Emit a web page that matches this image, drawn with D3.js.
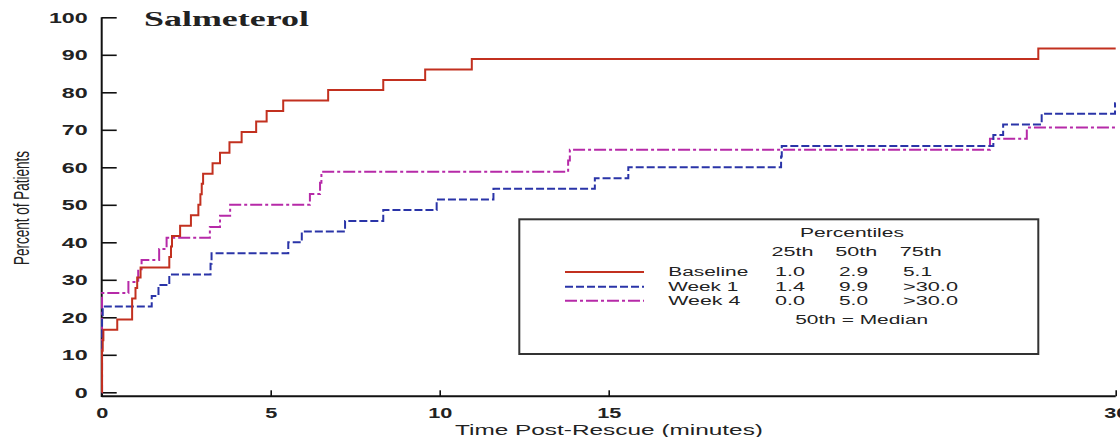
<!DOCTYPE html>
<html><head><meta charset="utf-8">
<script src="https://cdn.jsdelivr.net/npm/d3@7"></script>
<style>body{margin:0;background:#fff}svg{display:block}text{font-family:"Liberation Sans",Arial,sans-serif;fill:#222}</style>
</head><body><div id="chart"></div>
<script>
// ---- data ----
const seriesNames = ["Baseline", "Week 1", "Week 4"];
const baselineTime = [0, 0.01, 0.03, 0.05, 0.46, 0.90, 1.00, 1.05, 1.15, 2.00, 2.05, 2.08, 2.32, 2.64, 2.86, 2.92, 2.96, 3.00, 3.28, 3.50, 3.78, 4.14, 4.57, 4.88, 5.37, 6.70, 8.33, 9.57, 10.95, 27.71, 30];
const baselinePct  = [0, 11.1, 13.9, 16.7, 19.4, 25.0, 27.8, 30.6, 33.3, 36.1, 38.9, 41.7, 44.4, 47.2, 50.0, 52.8, 55.6, 58.3, 61.1, 63.9, 66.7, 69.4, 72.2, 75.0, 77.8, 80.6, 83.3, 86.1, 88.9, 91.7, 91.7];
const week1Time = [0, 0.01, 0.03, 1.48, 1.68, 2.00, 3.22, 3.25, 5.52, 5.92, 7.20, 8.33, 9.91, 11.59, 14.59, 15.58, 20.10, 20.12, 26.38, 26.67, 27.81, 29.98, 30];
const week1Pct  = [0, 20.0, 22.9, 25.7, 28.6, 31.4, 34.3, 37.1, 40.0, 42.9, 45.7, 48.6, 51.4, 54.3, 57.1, 60.0, 62.9, 65.7, 68.6, 71.4, 74.3, 77.1, 77.1];
const week4Time = [0, 0.01, 0.79, 1.08, 1.18, 1.70, 1.92, 3.20, 3.50, 3.80, 6.16, 6.46, 6.50, 13.80, 13.85, 26.28, 27.37, 30];
const week4Pct  = [0, 26.5, 29.4, 32.4, 35.3, 38.2, 41.2, 44.1, 47.1, 50.0, 52.9, 55.9, 58.8, 61.8, 64.7, 67.6, 70.6, 70.6];
const xTicks = [0, 5, 10, 15, 30];
const yTicks = [0, 10, 20, 30, 40, 50, 60, 70, 80, 90, 100];
const pctHeaders = ["25th", "50th", "75th"];
const pct25 = ["1.0", "1.4", "0.0"];
const pct50 = ["2.9", "9.9", "5.0"];
const pct75 = ["5.1", ">30.0", ">30.0"];

// ---- styles ----
const colors = ["#c2301f", "#2a34a8", "#b62aa8"];
const dashes = [null, "8,3", "12,3,3,3"];

const W = 1120, H = 437;
const svg = d3.select("#chart").append("svg").attr("width", W).attr("height", H);

const x = d3.scaleLinear().domain([0, 30]).range([101.7, 1115.7]);
const y = d3.scaleLinear().domain([0, 100]).range([392.3, 17.3]);

function fit(sel, w) {
  sel.attr("textLength", w).attr("lengthAdjust", "spacingAndGlyphs");
}

// axes lines
svg.append("line").attr("x1", x(0)).attr("x2", x(0)).attr("y1", y(100)).attr("y2", 397)
  .attr("stroke", "#111").attr("stroke-width", 2);
svg.append("line").attr("x1", x(0)).attr("x2", x(30)).attr("y1", 396.3).attr("y2", 396.3)
  .attr("stroke", "#111").attr("stroke-width", 2);

const yAxis = svg.append("g").attr("transform", `translate(${x(0)},0)`)
  .call(d3.axisLeft(y).tickValues(yTicks).tickSizeInner(-15).tickSizeOuter(0).tickPadding(14));
yAxis.select(".domain").remove();
yAxis.selectAll("line").attr("stroke", "#111").attr("stroke-width", 1.6);
yAxis.selectAll("text").style("font-family", '"Liberation Sans",Arial,sans-serif')
  .style("font-size", "15px").style("font-weight", "bold").attr("fill", "#222")
  .each(function () { const t = d3.select(this); fit(t, this.getComputedTextLength() * 1.55); });

const xAxis = svg.append("g").attr("transform", "translate(0,396.3)")
  .call(d3.axisBottom(x).tickValues(xTicks).tickSizeInner(-6).tickSizeOuter(0).tickPadding(12));
xAxis.select(".domain").remove();
xAxis.selectAll("line").attr("stroke", "#111").attr("stroke-width", 1.6);
xAxis.selectAll("text").style("font-family", '"Liberation Sans",Arial,sans-serif')
  .style("font-size", "14px").style("font-weight", "bold").attr("fill", "#222")
  .each(function () { const t = d3.select(this); fit(t, this.getComputedTextLength() * 1.55); });

// curves
const line = d3.line().x(d => x(d[0])).y(d => y(d[1])).curve(d3.curveStepAfter);
const series = [
  d3.zip(baselineTime, baselinePct),
  d3.zip(week1Time, week1Pct),
  d3.zip(week4Time, week4Pct)
];
[2, 1, 0].forEach(i => {
  svg.append("path").datum(series[i]).attr("d", line).attr("fill", "none")
    .attr("stroke", colors[i]).attr("stroke-width", 2)
    .attr("stroke-dasharray", dashes[i]);
});

// title
svg.append("text").attr("x", 144).attr("y", 26).text("Salmeterol")
  .style("font-family", '"Liberation Serif","Times New Roman",serif')
  .style("font-size", "20px").style("font-weight", "bold").attr("fill", "#111")
  .call(fit, 165);

// axis titles
svg.append("text").attr("x", 609).attr("y", 429).attr("text-anchor", "middle")
  .attr("dominant-baseline", "central").style("font-size", "15px").text("Time Post-Rescue (minutes)")
  .call(fit, 308);
svg.append("text").attr("transform", "translate(21,208) scale(1.6,1) rotate(-90)")
  .attr("text-anchor", "middle").attr("dominant-baseline", "central")
  .style("font-size", "14px").text("Percent of Patients").call(fit, 114);

// legend box
svg.append("rect").attr("x", 519.3).attr("y", 219.3).attr("width", 519).attr("height", 134.7)
  .attr("fill", "#fff").attr("stroke", "#333").attr("stroke-width", 2);

const lg = svg.append("g").style("font-size", "12px");
function lt(str, xx, yy, w, anchor) {
  return lg.append("text").attr("x", xx).attr("y", yy).attr("text-anchor", anchor || "start")
    .attr("dominant-baseline", "central").text(str).call(fit, w);
}
lt("Percentiles", 852, 233.3, 104, "middle");
const hdrX = [792.5, 856.2, 920.8];
pctHeaders.forEach((h, i) => lt(h, hdrX[i], 251.7, 42, "middle"));
const rowY = [272, 286.7, 300.7];
const nameW = [80, 70, 72];
seriesNames.forEach((n, i) => {
  lg.append("line").attr("x1", 565).attr("x2", 644).attr("y1", rowY[i]).attr("y2", rowY[i])
    .attr("stroke", colors[i]).attr("stroke-width", 2).attr("stroke-dasharray", dashes[i]);
  lt(n, 668.3, rowY[i], nameW[i]);
  lt(pct25[i], 775, rowY[i], 30);
  lt(pct50[i], 839, rowY[i], 29);
  lt(pct75[i], 903, rowY[i], pct75[i].length > 3 ? 55 : 29);
});
lt("50th = Median", 861.7, 320, 133, "middle");
</script></body></html>
